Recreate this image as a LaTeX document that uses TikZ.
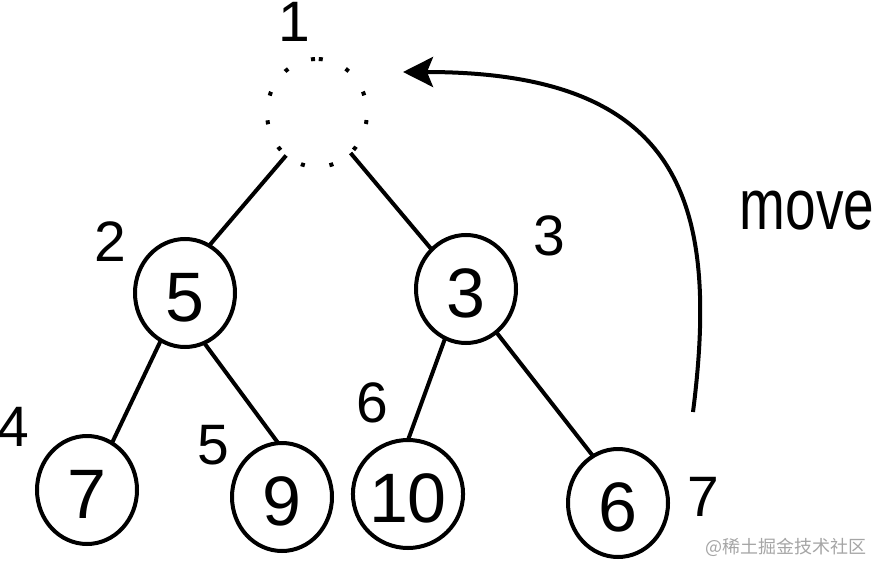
\documentclass[tikz,border=0pt]{standalone}
\usepackage{fontspec}
\setmainfont{Liberation Sans}
\newfontfamily\cjkfont{Noto Sans CJK SC}
\usetikzlibrary{shapes.geometric,arrows.meta}
\definecolor{wmgray}{RGB}{165,165,165}
\begin{document}
\begin{tikzpicture}[x=1pt,y=-1pt,
  heapnode/.style={ellipse, draw, line width=4pt, minimum width=100pt, minimum height=108pt, inner sep=0pt, outer sep=0pt, text height=56pt, text depth=0pt, font=\fontsize{70}{70}\selectfont},
  ghostnode/.style={ellipse, minimum width=100pt, minimum height=108pt, inner sep=0pt, outer sep=0pt},
  dotring/.style={line width=4pt, dash pattern=on 4pt off 25pt, dash phase=27pt},
  link/.style={line width=4pt},
  idx/.style={font=\fontsize{57}{57}\selectfont, inner sep=0pt},
  movearrow/.style={line width=4pt, -{Stealth[length=30pt,width=30pt,inset=6pt]}},
  watermark/.style={font=\cjkfont\fontsize{18}{18}\selectfont, text=wmgray, inner sep=0pt}
]
\useasboundingbox (0,0) rectangle (874,561);

% nodes
\node[ghostnode] (root) at (317,113) {};
\draw[dotring] (root.north) arc[start angle=90, end angle=450, x radius=50pt, y radius=54pt];
\node[heapnode] (n5) at (185,293) {5};
\node[heapnode] (n3) at (466,289) {3};
\node[heapnode] (n7) at (87,490) {7};
\node[heapnode] (n9) at (282,497) {9};
\node[heapnode] (n10) at (408,494) {10};
\node[heapnode] (n6) at (618,503) {6};

% edges
\draw[link] (root.-126) -- (n5.63);
\draw[link] (root.-50) -- (n3.131);
\draw[link] (n5.-117) -- (n7.62);
\draw[link] (n5.-69) -- (n9.94);
\draw[link] (n3.-113) -- (n10.90);
\draw[link] (n3.-55) -- (n6.118);

% index labels
\node[idx] (l1) at (294,22) {1};
\node[idx] (l2) at (110,242) {2};
\node[idx] (l3) at (549,236) {3};
\node[idx] (l4) at (13,427) {4};
\node[idx] (l5) at (213,445) {5};
\node[idx] (l6) at (372,403) {6};
\node[idx] (l7) at (703,497) {7};

% move arrow
\coordinate (mstart) at (693,412);
\coordinate (mtip) at (403,72);
\draw[movearrow] (mstart) .. controls (720,200) and (680,72) .. (mtip);
\node[inner sep=0pt, font=\fontsize{55}{55}\selectfont] (move) at (807,211) {\scalebox{1}[1.3]{move}};

% watermark
\node[watermark] (wm) at (786,547) {@稀土掘金技术社区};
\end{tikzpicture}
\end{document}
